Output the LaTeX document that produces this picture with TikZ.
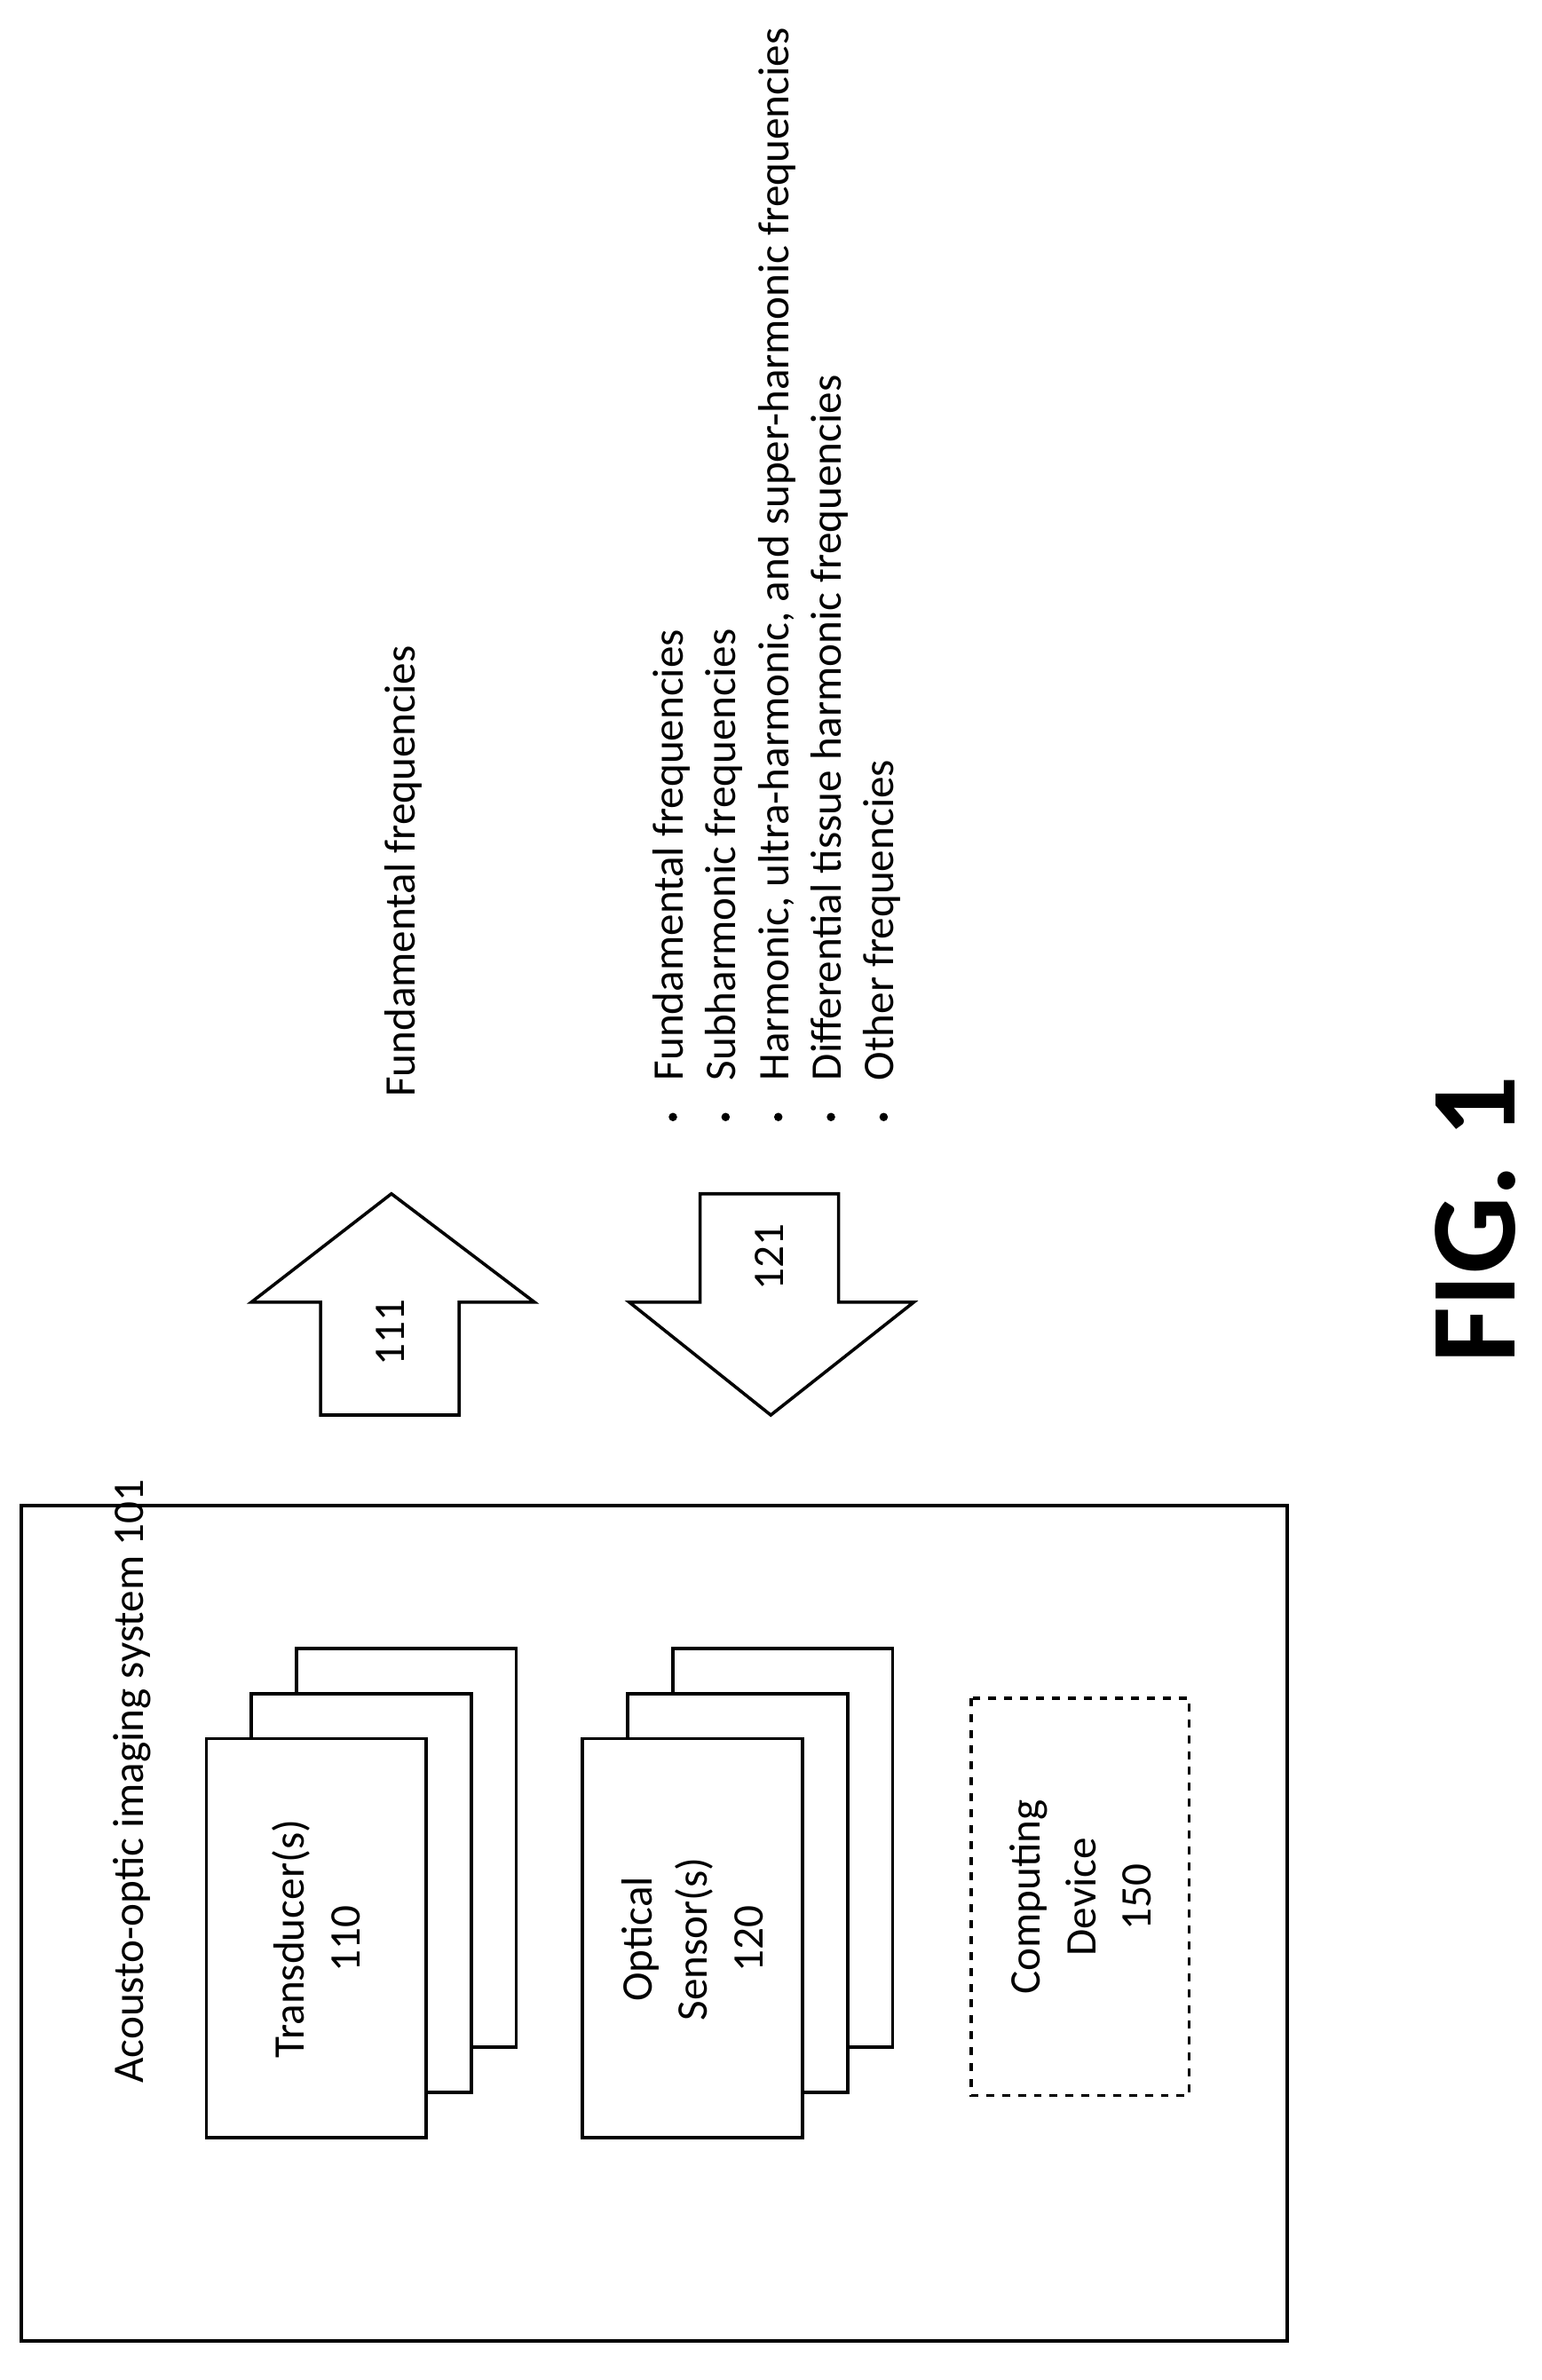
\documentclass[tikz,border=0pt]{standalone}
\usepackage{fontspec}
\setmainfont{Carlito}
\begin{document}
\begin{tikzpicture}[x=0.02cm,y=-0.02cm,
  box/.style={draw,line width=1.2pt,fill=white},
  lbl/.style={rotate=90,font=\fontsize{16.5}{21}\selectfont,align=center},
  arr/.style={draw,line width=1.2pt}]
\useasboundingbox (0,0) rectangle (1024,1581);
\draw[line width=1.2pt] (14,1000) rectangle (855,1555);
\node[lbl,anchor=west] (title) at (88,1390) {Acousto-optic imaging system 101};
% transducers
\foreach \i in {2,1} {\draw[box] (137+30*\i,1155-30*\i) rectangle (283+30*\i,1420-30*\i);}
\draw[box] (137,1155) rectangle (283,1420);
\node[lbl] (t) at (210,1288) {Transducer(s)\\110};
% optical
\foreach \i in {2,1} {\draw[box] (387+30*\i,1155-30*\i) rectangle (533+30*\i,1420-30*\i);}
\draw[box] (387,1155) rectangle (533,1420);
\node[lbl] (o) at (460,1288) {Optical\\Sensor(s)\\120};
% computing
\draw[line width=1.2pt,dashed] (645,1128) rectangle (790,1392);
\node[lbl] (c) at (718,1260) {Computing\\Device\\150};
% arrows
\draw[arr] (213,940) -- (213,865) -- (167,865) -- (260,793) -- (355,865) -- (305,865) -- (305,940) -- cycle;
\node[lbl] (a111) at (259,885) {111};
\draw[arr] (465,793) -- (465,865) -- (418,865) -- (512,940) -- (607,865) -- (557,865) -- (557,793) -- cycle;
\node[lbl] (a121) at (511,835) {121};
\node[lbl,anchor=west] (ff) at (268,735) {Fundamental frequencies};
\foreach \t [count=\k from 0] in {Fundamental frequencies,Subharmonic frequencies,{Harmonic, ultra-harmonic, and super-harmonic frequencies},Differential tissue harmonic frequencies,Other frequencies}{
  \node[lbl,anchor=west] at (446+35*\k,724) {\t};
  \fill (447+35*\k,742) circle (2.8);
}
\node[rotate=90,font=\fontsize{46}{50}\selectfont\bfseries] (fig) at (980,810) {FIG. 1};
\end{tikzpicture}
\end{document}
